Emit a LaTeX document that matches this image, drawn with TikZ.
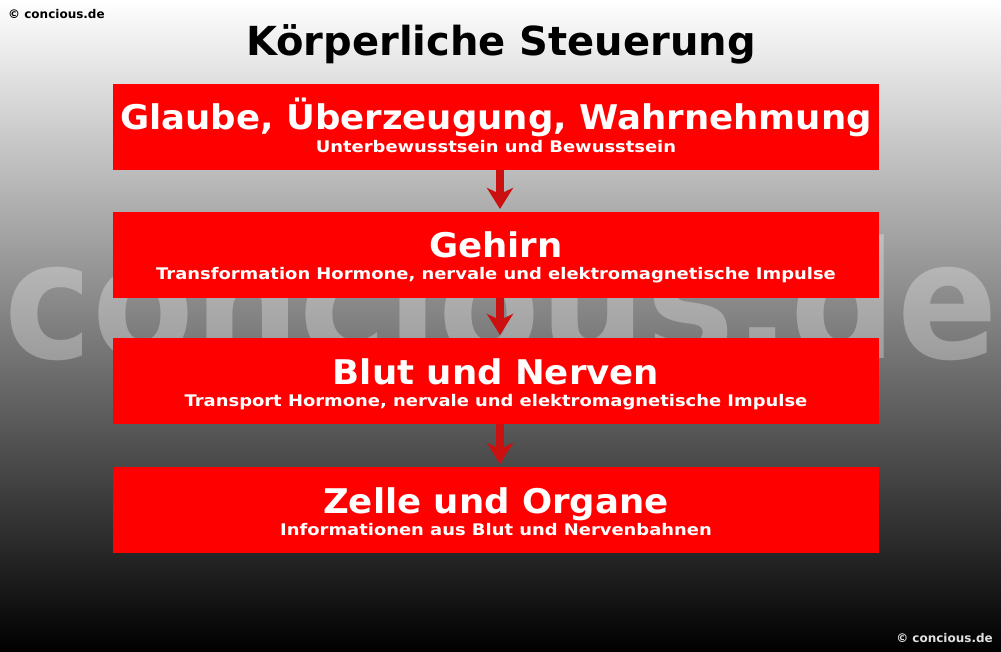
\documentclass[tikz,border=0pt]{standalone}
\usepackage{fontspec}
\setmainfont{DejaVu Sans}
\usetikzlibrary{arrows.meta}
\definecolor{boxred}{HTML}{FF0000}
\definecolor{arrred}{HTML}{CC1010}
\newcommand{\mainwide}[1]{\scalebox{1.045}[1]{#1}}
\newcommand{\subwide}[1]{\scalebox{1.12}[1]{#1}}
\begin{document}
\begin{tikzpicture}[x=1pt,y=-1pt,
  redbox/.style={fill=boxred, draw=none, minimum width=766pt, minimum height=86pt, inner sep=0pt},
  maintext/.style={anchor=base, text=white, font=\bfseries\fontsize{34}{34}\selectfont, inner sep=0pt},
  subtext/.style={anchor=base, text=white, font=\bfseries\fontsize{16}{16}\selectfont, inner sep=0pt},
  flowarrow/.style={draw=arrred, line width=8.5pt, -{Stealth[length=21pt, width=26pt, inset=6pt]}, shorten >=3pt},
  corner/.style={font=\bfseries\fontsize{12}{12}\selectfont, inner sep=0pt}
]
\useasboundingbox (0,0) rectangle (1001,651);
\shade[top color=white, bottom color=black] (0,0) rectangle (1001,651);
% watermark
\node[anchor=base, text=white, opacity=0.3, inner sep=0pt, font=\bfseries\fontsize{163}{163}\selectfont] (wm) at (501,358) {\scalebox{0.91}[1]{concious.de}};
% corner texts
\node[corner, anchor=base west, text=black] (c1) at (8,18) {© concious.de};
\node[corner, anchor=base east, text=white!88!black] (c2) at (993,642) {© concious.de};
% title
\node[anchor=base, inner sep=0pt, font=\bfseries\fontsize{40}{40}\selectfont] (title) at (501,55) {Körperliche Steuerung};
% boxes
\node[redbox, anchor=north west] (b1) at (113,84) {};
\node[redbox, anchor=north west] (b2) at (113,212) {};
\node[redbox, anchor=north west] (b3) at (113,338) {};
\node[redbox, anchor=north west] (b4) at (113,467) {};
% texts
\node[maintext] (m1) at (496,129) {\mainwide{Glaube, Überzeugung, Wahrnehmung}};
\node[subtext] (s1) at (496,152) {\subwide{Unterbewusstsein und Bewusstsein}};
\node[maintext] (m2) at (496,257) {\mainwide{Gehirn}};
\node[subtext] (s2) at (496,279) {\subwide{Transformation Hormone, nervale und elektromagnetische Impulse}};
\node[maintext] (m3) at (496,384) {\mainwide{Blut und Nerven}};
\node[subtext] (s3) at (496,406) {\subwide{Transport Hormone, nervale und elektromagnetische Impulse}};
\node[maintext] (m4) at (496,513) {\mainwide{Zelle und Organe}};
\node[subtext] (s4) at (496,535) {\subwide{Informationen aus Blut und Nervenbahnen}};
% arrows
\draw[flowarrow] (b1.south -| 500,0) -- (b2.north -| 500,0);
\draw[flowarrow] (b2.south -| 500,0) -- (b3.north -| 500,0);
\draw[flowarrow] (b3.south -| 500,0) -- (b4.north -| 500,0);
\end{tikzpicture}
\end{document}
